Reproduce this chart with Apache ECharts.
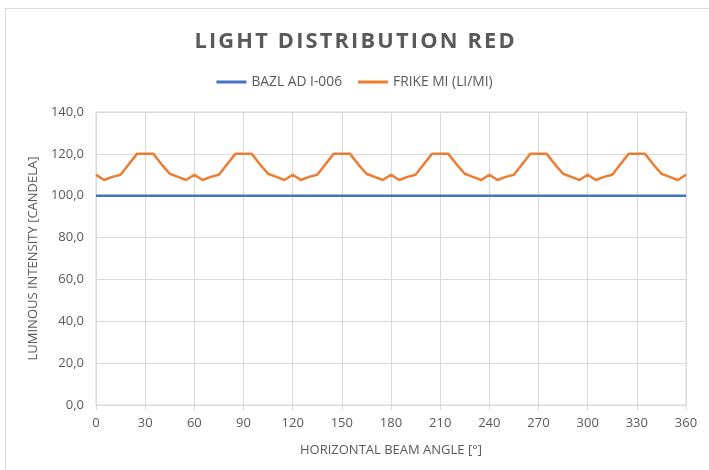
<!DOCTYPE html>
<html>
<head>
<meta charset="utf-8">
<script src="https://cdn.jsdelivr.net/npm/echarts@6/dist/echarts.min.js"></script>
<style>
html,body{margin:0;padding:0;background:#fff;}
#c{width:709px;height:470px;}
</style>
</head>
<body>
<div id="c"></div>
<script>
var angles = [0,5,10,15,20,25,30,35,40,45,50,55,
  60,65,70,75,80,85,90,95,100,105,110,115,
  120,125,130,135,140,145,150,155,160,165,170,175,
  180,185,190,195,200,205,210,215,220,225,230,235,
  240,245,250,255,260,265,270,275,280,285,290,295,
  300,305,310,315,320,325,330,335,340,345,350,355,360];
var frikeValues = [110,107.5,109,110,115,120,120,120,115,110.5,109,107.5,
  110,107.5,109,110,115,120,120,120,115,110.5,109,107.5,
  110,107.5,109,110,115,120,120,120,115,110.5,109,107.5,
  110,107.5,109,110,115,120,120,120,115,110.5,109,107.5,
  110,107.5,109,110,115,120,120,120,115,110.5,109,107.5,
  110,107.5,109,110,115,120,120,120,115,110.5,109,107.5,110];
var bazlAngles = [0,360];
var bazlValues = [100,100];
var xTicks = [0,30,60,90,120,150,180,210,240,270,300,330,360];
var seriesNames = ['BAZL AD I-006','FRIKE MI (LI/MI)'];
var titleText = 'LIGHT DISTRIBUTION RED';

var txt = '#595959';
var fontF = '"Open Sans", "Liberation Sans", sans-serif';
var spaced = titleText.split('').join('\u200A');
var chart = echarts.init(document.getElementById('c'), null, {renderer:'canvas'});
chart.setOption({
  animation:false,
  backgroundColor:'#fff',
  graphic:[{type:'rect',shape:{x:5.5,y:8.5,width:760,height:520},style:{fill:'none',stroke:'#d9d9d9',lineWidth:1},silent:true}],
  title:{text:spaced,left:'center',top:26,
    textStyle:{color:txt,fontSize:21.8,fontWeight:'bold',fontFamily:fontF}},
  legend:{top:70,left:'center',itemWidth:30,itemHeight:3,itemGap:16,icon:'rect',
    textStyle:{color:txt,fontSize:13.8,fontFamily:fontF},
    data:seriesNames},
  grid:{left:96,right:23,top:112,bottom:65,show:true,borderColor:'#d9d9d9',borderWidth:1},
  xAxis:{type:'value',min:0,max:360,interval:30,
    name:'HORIZONTAL BEAM ANGLE [°]',nameLocation:'middle',nameGap:39,
    nameTextStyle:{color:txt,fontSize:13,fontFamily:fontF},
    axisLine:{show:true,lineStyle:{color:'#d9d9d9'}},
    axisTick:{show:true,length:5,lineStyle:{color:'#d9d9d9'}},
    axisLabel:{color:txt,fontSize:13,fontFamily:fontF,margin:12,
      formatter:function(v){return xTicks.indexOf(v)>=0?String(v):'';}},
    splitLine:{show:true,lineStyle:{color:'#d9d9d9'}}},
  yAxis:{type:'value',min:0,max:140,interval:20,
    name:'LUMINOUS INTENSITY [CANDELA]',nameLocation:'middle',nameGap:54,
    nameTextStyle:{color:txt,fontSize:13,fontFamily:fontF},
    axisLine:{show:false},axisTick:{show:false},
    axisLabel:{color:txt,fontSize:13,fontFamily:fontF,margin:12,
      formatter:function(v){return v.toFixed(1).replace('.',',');}},
    splitLine:{show:true,lineStyle:{color:'#d9d9d9'}}},
  series:[
    {name:seriesNames[0],type:'line',symbol:'none',
      data:bazlAngles.map(function(a,i){return [a,bazlValues[i]];}),
      lineStyle:{color:'#4472C4',width:2.5},itemStyle:{color:'#4472C4'}},
    {name:seriesNames[1],type:'line',symbol:'none',
      data:angles.map(function(a,i){return [a,frikeValues[i]];}),
      lineStyle:{color:'#ED7D31',width:2.5},itemStyle:{color:'#ED7D31'}}
  ]
});
</script>
</body>
</html>
